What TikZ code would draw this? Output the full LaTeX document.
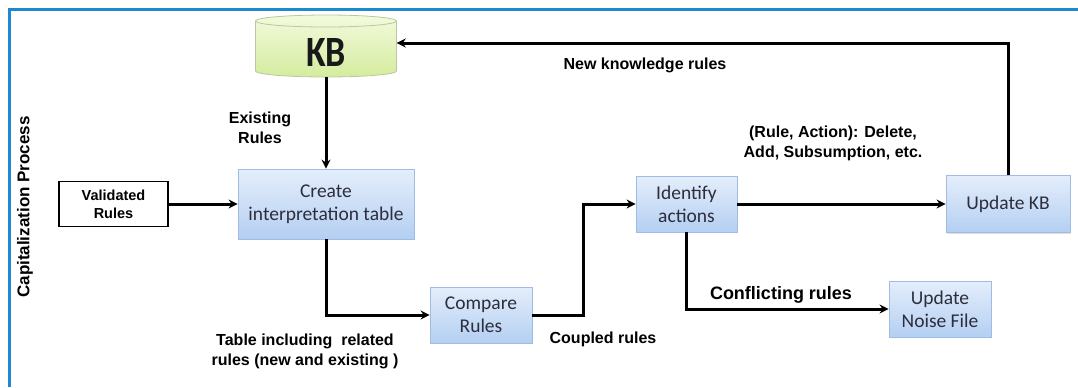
\documentclass[tikz,border=0pt]{standalone}
\usepackage{fontspec}
\setmainfont{Liberation Sans}
\newfontfamily\boxfont{Carlito}
\usetikzlibrary{arrows.meta,shadows}
\definecolor{frameblue}{RGB}{30,136,210}
\definecolor{boxtop}{RGB}{228,238,251}
\definecolor{boxbot}{RGB}{180,207,242}
\definecolor{boxline}{RGB}{160,188,228}
\definecolor{kbtop}{RGB}{243,250,222}
\definecolor{kbbot}{RGB}{212,236,158}
\definecolor{kbline}{RGB}{185,200,160}
\definecolor{boxtext}{RGB}{45,45,60}
\begin{document}
\begin{tikzpicture}[x=1bp,y=-1bp,
  procbox/.style={draw=boxline, line width=0.8bp, top color=boxtop, bottom color=boxbot,
    font=\boxfont\fontsize{19.5bp}{23bp}\selectfont, text=boxtext, align=center, inner sep=0pt,
    drop shadow={shadow xshift=1.2bp, shadow yshift=-1.2bp, opacity=0.25}},
  lbl/.style={font=\bfseries\fontsize{16bp}{20bp}\selectfont, align=center, inner sep=0pt},
  arr/.style={line width=3bp, -{Stealth[length=9bp,width=9bp]}},
  ]
\useasboundingbox (0,0) rectangle (1078,387);
\fill[white] (0,0) rectangle (1078,387);
% frame
\draw[frameblue, line width=3bp] (9.5,387) -- (9.5,9.5) -- (1078,9.5);

% KB cylinder
\path[top color=kbtop, bottom color=kbbot, draw=kbline, line width=0.8bp]
  (255.5,21) -- (255.5,71) arc(180:0:70.5 and 6) -- (396.5,21) arc(0:-180:70.5 and 6) -- cycle;
\draw[kbline, line width=0.8bp] (255.5,21) arc(180:0:70.5 and 6);
\node[minimum width=141bp, minimum height=62bp, inner sep=0pt] (kb) at (326,46) {};
\node[font=\boxfont\bfseries\fontsize{36bp}{40bp}\selectfont, text=black!90, inner sep=0pt] (kbtext) at ([yshift=-6bp]kb.center) {\scalebox{1}[1.2]{KB}};

% process boxes
\node[procbox, minimum width=176bp, minimum height=70bp] (create) at (326,204) {Create\\interpretation table};
\node[procbox, minimum width=102bp, minimum height=56bp] (compare) at (481,315) {Compare\\Rules};
\node[procbox, minimum width=101bp, minimum height=56bp] (identify) at (686.5,204) {Identify\\actions};
\node[procbox, minimum width=124bp, minimum height=57bp] (updkb) at (1008,204) {Update KB};
\node[procbox, minimum width=102bp, minimum height=56bp] (noise) at (940,309) {Update\\Noise File};
\node[draw=black, line width=1.2bp, fill=white, minimum width=109bp, minimum height=45bp,
  font=\bfseries\fontsize{14.5bp}{18bp}\selectfont, align=center, inner sep=0pt] (valid) at (113.5,204) {Validated\\Rules};

% connectors
\coordinate (c1) at (583,315);
\draw[arr] (kb.south) -- (create.north);
\draw[arr] (valid.east) -- (create.west);
\draw[arr] (create.south) |- (compare.west);
\draw[arr] (compare.east) -- (c1) |- (identify.west);
\draw[arr] (identify.east) -- (updkb.west);
\draw[arr] (identify.south) |- (noise.west);
\draw[arr] (updkb.north) |- ([yshift=3bp]kb.east);

% labels
\node[lbl] (lnew) at (645,65) {New knowledge rules};
\node[lbl] (lexist) at (260,128) {Existing\\Rules};
\node[lbl] (lact) at (833,143) {(Rule, Action): Delete,\\Add, Subsumption, etc.};
\node[lbl] (ltable) at (305,351) {Table including\ \ related\\rules (new and existing )};
\node[lbl] (lcoupled) at (603,339) {Coupled rules};
\node[lbl, font=\bfseries\fontsize{18bp}{21bp}\selectfont] (lconf) at (781,295) {Conflicting rules};
\node[lbl, rotate=90, font=\bfseries\fontsize{17bp}{20bp}\selectfont] (lcap) at (25,207) {Capitalization Process};
\end{tikzpicture}
\end{document}
